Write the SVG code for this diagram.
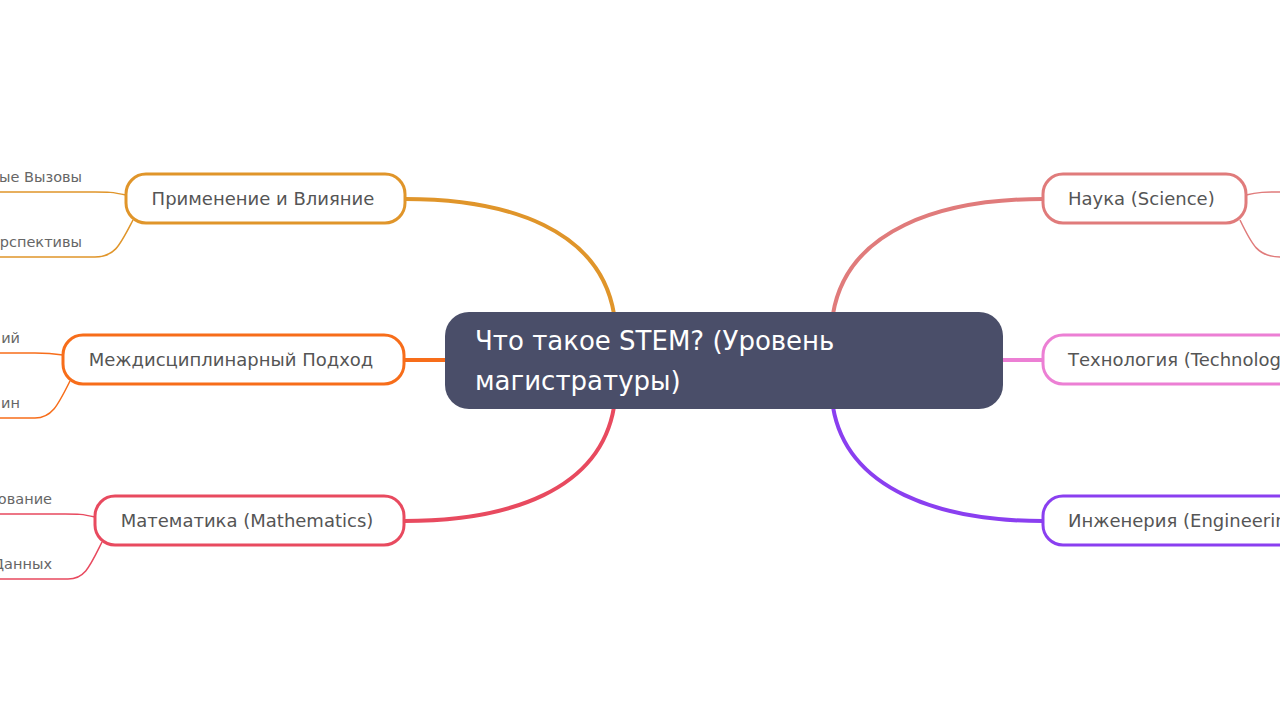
<svg xmlns="http://www.w3.org/2000/svg" width="1280" height="720" viewBox="0 0 1280 720">
<style>
.n{fill:#fff;stroke-width:3}
.t{font-family:"DejaVu Sans",sans-serif;font-size:18px;fill:#555}
.s{font-family:"DejaVu Sans",sans-serif;font-size:14.5px;fill:#666;text-anchor:end}
.c{fill:none;stroke-width:4}
.b{fill:none;stroke-width:1.5}
</style>
<rect width="1280" height="720" fill="#fff"/>
<g id="connectors">
<path class="c" stroke="#e0952a" d="M614,314 C600,230 510,199 405,199"/>
<path class="c" stroke="#f76d1a" d="M446,360 L404,360"/>
<path class="c" stroke="#e84a5f" d="M614,407 C600,490 510,521 404,521"/>
<path class="c" stroke="#e07b7b" d="M833,314 C847,230 940,199 1043,199"/>
<path class="c" stroke="#ec7fd4" d="M1002,360 L1043,360"/>
<path class="c" stroke="#8a3ff0" d="M833,407 C847,490 940,521 1043,521"/>
<path class="b" stroke="#e0952a" d="M126,195 C112,192 108,192 95,192 L0,192"/>
<path class="b" stroke="#e0952a" d="M133,220 C120,245 115,257 95,257 L0,257"/>
<path class="b" stroke="#f76d1a" d="M63,355 C50,353 45,353 35,353 L0,353"/>
<path class="b" stroke="#f76d1a" d="M70,381 C58,405 52,418 35,418 L0,418"/>
<path class="b" stroke="#e84a5f" d="M95,517 C82,514 78,514 65,514 L0,514"/>
<path class="b" stroke="#e84a5f" d="M102,542 C90,566 85,579 68,579 L0,579"/>
<path class="b" stroke="#e07b7b" d="M1246,195 C1258,192 1265,192 1280,192"/>
<path class="b" stroke="#e07b7b" d="M1240,220 C1252,245 1258,257 1280,257"/>
</g>
<g id="center">
<rect x="445" y="312" width="558" height="97" rx="24" fill="#4a4e69"/>
<text x="475" y="350" font-family="DejaVu Sans,sans-serif" font-size="26" fill="#fff">Что такое STEM? (Уровень</text>
<text x="475" y="390" font-family="DejaVu Sans,sans-serif" font-size="26" fill="#fff">магистратуры)</text>
</g>
<g id="n-apply"><rect class="n" stroke="#e0952a" x="126" y="174" width="279" height="49" rx="20"/><text class="t" x="263" y="205" text-anchor="middle">Применение и Влияние</text></g>
<g id="n-inter"><rect class="n" stroke="#f76d1a" x="63" y="335" width="341" height="49" rx="20"/><text class="t" x="231" y="366" text-anchor="middle">Междисциплинарный Подход</text></g>
<g id="n-math"><rect class="n" stroke="#e84a5f" x="95" y="496" width="309" height="49" rx="20"/><text class="t" x="247" y="527" text-anchor="middle">Математика (Mathematics)</text></g>
<g id="n-sci"><rect class="n" stroke="#e07b7b" x="1043" y="174" width="203" height="49" rx="20"/><text class="t" x="1068" y="205">Наука (Science)</text></g>
<g id="n-tech"><rect class="n" stroke="#ec7fd4" x="1043" y="335" width="300" height="49" rx="20"/><text class="t" x="1068" y="366">Технология (Technology)</text></g>
<g id="n-eng"><rect class="n" stroke="#8a3ff0" x="1043" y="496" width="300" height="49" rx="20"/><text class="t" x="1068" y="527">Инженерия (Engineering)</text></g>
<g id="leaves">
<text class="s" x="82" y="182">ые Вызовы</text>
<text class="s" x="82" y="247">рспективы</text>
<text class="s" x="20" y="343">ий</text>
<text class="s" x="20" y="408">ин</text>
<text class="s" x="52" y="504">ование</text>
<text class="s" x="52" y="569">Данных</text>
</g>
</svg>
